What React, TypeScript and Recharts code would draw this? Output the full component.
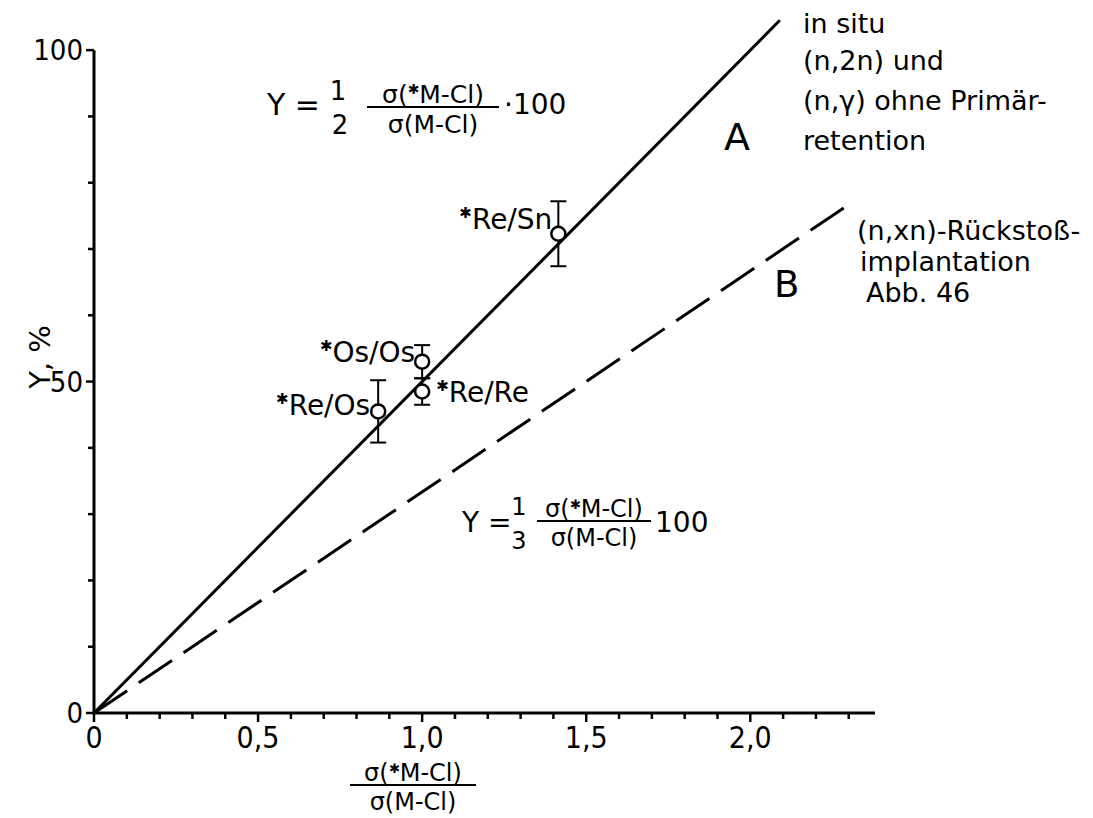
import React from "react";
import {
  ComposedChart,
  Line,
  Scatter,
  ErrorBar,
  XAxis,
  YAxis,
  ReferenceLine,
} from "recharts";

const FONT = "'DejaVu Sans', sans-serif";
const COND = "'DejaVu Sans Condensed', 'DejaVu Sans', sans-serif";

// measured points (*Re/Os, *Os/Os, *Re/Re, *Re/Sn)
const pointNames = ["Re/Os", "Os/Os", "Re/Re", "Re/Sn"];
const pointX = [0.866, 1.0, 1.0, 1.415];
const pointY = [45.5, 53.0, 48.5, 72.3];
const pointErr = [4.7, 2.5, 2.0, 4.9];

// line A (in situ) and line B (recoil implantation), end points
const lineAX = [0, 2.09];
const lineAY = [0, 104.5];
const lineBX = [0, 2.3];
const lineBY = [0, 76.7];

const xTicks = [
  0, 0.1, 0.2, 0.3, 0.4, 0.5, 0.6, 0.7, 0.8, 0.9, 1.0, 1.1, 1.2, 1.3, 1.4, 1.5,
  1.6, 1.7, 1.8, 1.9, 2.0, 2.1, 2.2, 2.3,
];
const xLabelTicks = [0, 0.5, 1.0, 1.5, 2.0];
const xLabelText = ["0", "0,5", "1,0", "1,5", "2,0"];
const yTicks = [0, 10, 20, 30, 40, 50, 60, 70, 80, 90, 100];
const yLabelTicks = [0, 50, 100];
const yLabelText = ["0", "50", "100"];

const points = pointNames.map((name, i) => ({
  name,
  x: pointX[i],
  y: pointY[i],
  err: pointErr[i],
}));
const lineA = lineAX.map((x, i) => ({ x, y: lineAY[i] }));
const lineB = lineBX.map((x, i) => ({ x, y: lineBY[i] }));

// where each point label sits relative to its circle
const labelPos: Record<string, { dx: number; dy: number; anchor: "start" | "end" }> = {
  "Re/Os": { dx: -8, dy: 4, anchor: "end" },
  "Os/Os": { dx: -7, dy: 0, anchor: "end" },
  "Re/Re": { dx: 14, dy: 10, anchor: "start" },
  "Re/Sn": { dx: -6, dy: -5, anchor: "end" },
};

const XTick = (props: any) => {
  const { x, y, payload } = props;
  const idx = xLabelTicks.indexOf(payload.value);
  const major = idx >= 0;
  return (
    <g>
      <line x1={x} y1={y} x2={x} y2={y + (major ? 9 : 6)} stroke="#000" strokeWidth={2.5} />
      {major && (
        <text x={x} y={y + 35} textAnchor="middle" fontFamily={COND} fontSize={30}>
          {xLabelText[idx]}
        </text>
      )}
    </g>
  );
};

const YTick = (props: any) => {
  const { x, y, payload } = props;
  const idx = yLabelTicks.indexOf(payload.value);
  const major = idx >= 0;
  return (
    <g>
      <line x1={x} y1={y} x2={x - (major ? 8 : 6)} y2={y} stroke="#000" strokeWidth={2.5} />
      {major && (
        <text x={x - 11} y={y} textAnchor="end" dominantBaseline="central" fontFamily={COND} fontSize={29}>
          {yLabelText[idx]}
        </text>
      )}
    </g>
  );
};

const PointShape = (props: any) => {
  const { cx, cy, payload } = props;
  const p = labelPos[payload.name];
  return (
    <g>
      <circle cx={cx} cy={cy} r={7} fill="#fff" stroke="#000" strokeWidth={2.5} />
      <text x={cx + p.dx} y={cy + p.dy} textAnchor={p.anchor} fontFamily={FONT} fontSize={28}>
        <tspan fontSize={15} dy={-11}>✱</tspan>
        <tspan dy={11}>{payload.name}</tspan>
      </text>
    </g>
  );
};

// sigma(*M-Cl) over sigma(M-Cl)
const Fraction = ({ x, y, w, size }: { x: number; y: number; w: number; size: number }) => (
  <g fontFamily={FONT} fontSize={size}>
    <text x={x + w / 2} y={y - 4} textAnchor="middle">
      σ(<tspan fontSize={size * 0.55} dy={-size * 0.35}>✱</tspan>
      <tspan dy={size * 0.35}>M-Cl)</tspan>
    </text>
    <line x1={x} y1={y} x2={x + w} y2={y} stroke="#000" strokeWidth={2} />
    <text x={x + w / 2} y={y + size + 1} textAnchor="middle">
      σ(M-Cl)
    </text>
  </g>
);

const Annotations = () => (
  <svg
    width={1093}
    height={818}
    style={{ position: "absolute", left: 0, top: 0, pointerEvents: "none" }}
  >
    <g fontFamily={FONT} fill="#000">
      {/* y axis title */}
      <text x={40} y={357} fontSize={29} textAnchor="middle" dominantBaseline="central" transform="rotate(-90 40 357)">
        Y, %
      </text>

      {/* formula for A */}
      <text x={267} y={115} fontSize={30}>Y =</text>
      <text x={338} y={100} fontSize={26} textAnchor="middle">1</text>
      <text x={340} y={134} fontSize={26} textAnchor="middle">2</text>
      <Fraction x={367} y={107} w={132} size={25} />
      <text x={504} y={114} fontSize={28}>·100</text>

      {/* formula for B */}
      <text x={462} y={532} fontSize={28}>Y =</text>
      <text x={519} y={515} fontSize={24} textAnchor="middle">1</text>
      <text x={519} y={549} fontSize={24} textAnchor="middle">3</text>
      <Fraction x={537} y={521} w={114} size={24} />
      <text x={655} y={532} fontSize={28}>100</text>

      {/* line names */}
      <text x={724} y={150} fontSize={38}>A</text>
      <text x={774} y={297} fontSize={37}>B</text>

      {/* right hand notes */}
      <g fontSize={27}>
        <text x={803} y={33}>in situ</text>
        <text x={803} y={70}>(n,2n) und</text>
        <text x={803} y={110}>(n,γ) ohne Primär-</text>
        <text x={803} y={150}>retention</text>
        <text x={857} y={240}>(n,xn)-Rückstoß-</text>
        <text x={860} y={271}>implantation</text>
        <text x={866} y={302}>Abb. 46</text>
      </g>

      {/* x axis title */}
      <Fraction x={350} y={785} w={126} size={24} />
    </g>
  </svg>
);

export default function App() {
  return (
    <div style={{ position: "absolute", left: 0, top: 0, width: 1093, height: 818, background: "#fff" }}>
      <ComposedChart width={1093} height={818} margin={{ top: 17, right: 218, bottom: 0, left: 0 }}>
        <XAxis
          type="number"
          dataKey="x"
          domain={[0, 2.38]}
          ticks={xTicks}
          interval={0}
          height={105}
          tickSize={0}
          tickMargin={0}
          tickLine={false}
          tick={<XTick />}
          axisLine={{ stroke: "#000", strokeWidth: 3 }}
        />
        <YAxis
          type="number"
          dataKey="y"
          domain={[0, 105]}
          ticks={yTicks}
          interval={0}
          width={94}
          tickSize={0}
          tickMargin={0}
          tickLine={false}
          tick={<YTick />}
          axisLine={false}
        />
        <ReferenceLine
          segment={[{ x: 0, y: 0 }, { x: 0, y: 100 }]}
          stroke="#000"
          strokeWidth={3}
        />
        <Line
          data={lineA}
          dataKey="y"
          stroke="#000"
          strokeWidth={3}
          dot={false}
          activeDot={false}
          isAnimationActive={false}
        />
        <Line
          data={lineB}
          dataKey="y"
          stroke="#000"
          strokeWidth={3}
          strokeDasharray="40 14"
          dot={false}
          activeDot={false}
          isAnimationActive={false}
        />
        <Scatter data={points} dataKey="y" shape={<PointShape />} isAnimationActive={false}>
          <ErrorBar dataKey="err" direction="y" width={8} stroke="#000" strokeWidth={2} />
        </Scatter>
      </ComposedChart>
      <Annotations />
    </div>
  );
}
